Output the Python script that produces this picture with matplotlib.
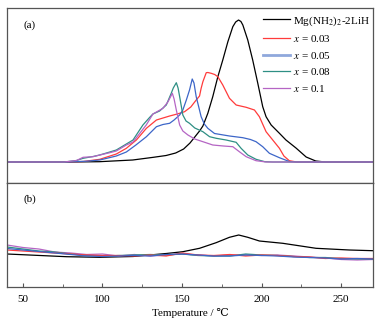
import matplotlib
matplotlib.use("Agg")
import matplotlib.pyplot as plt
from matplotlib.ticker import MultipleLocator

plt.rcParams['font.family'] = ['Liberation Serif', 'DejaVu Serif']
plt.rcParams['mathtext.fontset'] = 'stix'

# ---- data: panel (a) ----
T_black = [40, 80, 98, 119, 132, 140, 146, 151, 155, 158, 161, 163.1, 166.2, 169.3, 172.5,
           175.6, 178.8, 181.9, 183.7, 185.5, 187, 188.2, 191.3, 194.4, 197.6, 200.7, 202.8,
           206, 211.2, 215.3, 221.6, 228, 234, 240, 270]
h_black = [0, 0, 0.3, 2, 4.7, 6.5, 9, 13, 19, 25, 31, 36, 48.7, 65.3, 85.3,
           102, 120.3, 135.3, 140, 142, 140.5, 137, 122, 102, 78.7, 55.3, 45.3,
           37, 28.7, 22, 14, 5, 1, 0, 0]

T_red = [40, 76, 88, 98.3, 108.7, 115, 121.3, 127.6, 133.9, 142.2, 147, 151.6, 155.5, 158.9,
         161, 162, 163.1, 165.2, 166.2, 168.3, 170.5, 172.5, 175.6, 179.8, 184, 190.3, 195.5,
         198.6, 202.8, 207, 211.2, 214, 217.4, 222, 270]
h_red = [0, 0, 0.5, 2.7, 8, 13.7, 22, 33.7, 42, 46, 48, 50.3, 55, 62,
         66, 73.7, 80.3, 89.3, 89.5, 88.7, 87.5, 85.3, 77, 63.7, 57, 54.7, 52,
         45.3, 30.3, 22, 13.7, 6, 1.3, 0, 0]

T_blue = [40, 78, 90, 98.3, 108.7, 115, 121, 127.6, 133.9, 138, 142.2, 145, 148.5, 150.5,
          152.7, 154.7, 156.4, 157.5, 158.9, 160.5, 162, 164, 166.2, 170.4, 179.8, 188.2,
          193, 196.5, 200.7, 204.9, 211.2, 217.4, 222, 270]
h_blue = [0, 0, 0.8, 2, 6, 10, 17, 25.3, 35.3, 37.5, 38.7, 42, 47, 52,
          62, 72, 83, 79, 65.3, 55, 45.3, 38, 33.7, 28.5, 26, 24.3,
          22.5, 20.3, 15.3, 8.7, 4.3, 0.5, 0, 0]

T_green = [40, 76, 83.7, 87.8, 94.1, 98.3, 104.6, 108.7, 115, 119.2, 125.4, 129.7, 131.7,
           135.9, 140.1, 143.2, 144.5, 146.4, 147.5, 148.5, 150.5, 152.5, 154.7, 158, 163.1,
           167.3, 171.5, 177.7, 184, 187.1, 191.3, 196.5, 202, 207, 270]
h_green = [0, 0, 1.5, 3.7, 5.5, 7, 10, 12, 18, 22, 37, 44.7, 48,
           51, 57, 68.7, 74, 79.3, 74, 65.3, 47, 41, 38.7, 34, 30.3,
           25.3, 23.7, 22, 19.7, 13.7, 7, 2.7, 0.3, 0, 0]

T_purple = [40, 76, 83.7, 87.8, 94.1, 98.3, 104.6, 108.7, 115, 119.2, 127.5, 131.7, 135,
            138, 141.2, 143.9, 145, 146.4, 148.5, 150.5, 153.7, 158, 163.1, 169.3, 176,
            181.9, 186, 190.3, 196.5, 202.8, 270]
h_purple = [0, 0, 1.5, 4.7, 5.3, 7, 9.3, 11, 17, 20, 37, 48, 51,
            53.7, 60.3, 68.7, 63, 52, 37, 31, 27, 23, 20.3, 17, 16,
            15.3, 10.3, 5.3, 1.3, 0, 0]

# ---- data: panel (b) ----
Tb_black = [40, 77.4, 98.3, 119.2, 129.6, 140.1, 150.5, 161, 171.4, 179.8, 185.6, 191.3,
            198.6, 213.3, 234.2, 255.1, 270]
hb_black = [33, 30.3, 29.7, 30.5, 32, 33.5, 35.3, 38.7, 44.3, 49.7, 52, 49.7,
            46, 43.7, 38.7, 37, 36.3]

Tb = [40, 50, 60, 70, 80, 90, 100, 110, 120, 130, 140, 150, 160, 170, 180, 190,
      200, 210, 220, 230, 240, 250, 260, 270]
hb_purple = [42, 39.5, 38, 35, 34, 32.5, 33, 31, 32.5, 31, 32, 33, 32, 31, 32, 32,
             31.5, 32, 31, 30, 29, 27.5, 27, 27.5]
hb_red = [37, 36, 35, 34, 33, 32, 31.5, 31.5, 31, 32, 31, 34, 32, 31.5, 32.5, 31,
          32, 31.5, 30.5, 30, 28.5, 29, 28.5, 28.5]
hb_blue = [38.5, 37, 35.5, 34, 32.5, 31, 30.5, 31, 31.5, 31, 32.5, 33, 32, 31, 31, 32,
           31.5, 31, 30, 29.5, 29, 28, 28.5, 28]
hb_green = [40, 38, 36, 35, 33, 31.5, 31, 31.5, 32, 32.5, 32, 33, 31.5, 31, 31, 33,
            32, 31.5, 30.5, 29.5, 29.5, 28.5, 28, 28]

labels = ['Mg(NH$_2$)$_2$-2LiH', '$x$ = 0.03', '$x$ = 0.05', '$x$ = 0.08', '$x$ = 0.1']
colors = ['#000000', '#ff3b3b', '#3d66c8', '#2e8f84', '#b565c4']

fig = plt.figure(figsize=(3.85, 3.27), dpi=100)
W, H = 385, 327
L, R = 7, 373
axa = fig.add_axes([L / W, 1 - 183 / H, (R - L) / W, (183 - 8) / H])
axb = fig.add_axes([L / W, 1 - 287 / H, (R - L) / W, (287 - 183) / H])

lw = 0.9
kw = dict(lw=lw, solid_joinstyle='round')
axa.plot(T_black, h_black, color=colors[0], label=labels[0], **kw)
axa.plot(T_red, h_red, color=colors[1], label=labels[1], **kw)
axa.plot(T_blue, h_blue, color=colors[2], label=labels[2], **kw)
axa.plot(T_green, h_green, color=colors[3], label=labels[3], **kw)
axa.plot(T_purple, h_purple, color=colors[4], label=labels[4], **kw)

axb.plot(Tb_black, hb_black, color=colors[0], **kw)
axb.plot(Tb, hb_purple, color=colors[4], **kw)
axb.plot(Tb, hb_green, color=colors[3], **kw)
axb.plot(Tb, hb_red, color=colors[1], **kw)
axb.plot(Tb, hb_blue, color=colors[2], **kw)

for ax in (axa, axb):
    ax.set_xlim(40, 270)
    for s in ax.spines.values():
        s.set_color('#555555')
        s.set_linewidth(0.9)
    ax.set_yticks([])

axa.set_ylim(-21, 154)
axb.set_ylim(0, 104)
axa.set_xticks([])

axb.xaxis.set_major_locator(MultipleLocator(50))
axb.xaxis.set_minor_locator(MultipleLocator(25))
axb.tick_params(axis='x', which='both', direction='in', labelsize=8, colors='#555555',
                labelcolor='black', pad=6)
axb.tick_params(axis='x', which='major', length=3)
axb.tick_params(axis='x', which='minor', length=2)
axb.set_xlabel('Temperature / ℃', fontsize=8, labelpad=3)

axa.text(0.046, 0.903, '(a)', transform=axa.transAxes, fontsize=8, va='center')
axb.text(0.046, 0.846, '(b)', transform=axb.transAxes, fontsize=8, va='center')

leg = axa.legend(loc='upper left', bbox_to_anchor=(0.70, 0.965), frameon=False,
                 fontsize=8, handlelength=2.4, handletextpad=0.3, labelspacing=0.5,
                 borderpad=0, borderaxespad=0)
for i, line in enumerate(leg.get_lines()):
    line.set_linewidth(2.0 if i == 2 else 0.9)
    if i == 2:
        line.set_color('#8fa8dc')

fig.savefig('out.png', dpi=100)
